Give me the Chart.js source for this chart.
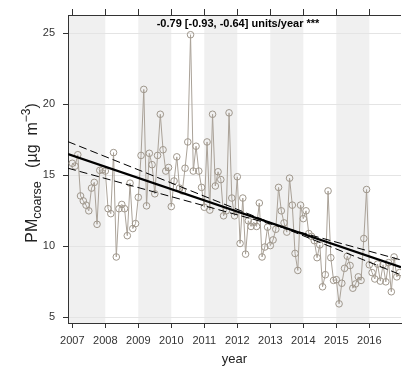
<!DOCTYPE html>
<html><head><meta charset="utf-8">
<script src="https://cdn.jsdelivr.net/npm/chart.js@4"></script>
<style>html,body{margin:0;padding:0;background:#fff;overflow:hidden}</style>
</head><body>
<canvas id="c" width="406" height="370"></canvas>
<script>
// ---- data (monthly PM coarse) ----
const years = [2007, 2008, 2009, 2010, 2011, 2012, 2013, 2014, 2015, 2016];
const pm2007 = [15.85, 15.65, 16.45, 13.55, 13.2, 12.9, 12.5, 14.1, 14.5, 11.55, 15.35, 15.4];
const pm2008 = [15.3, 12.65, 12.3, 16.6, 9.25, 12.65, 12.95, 12.65, 10.75, 14.45, 11.25, 11.6];
const pm2009 = [13.45, 16.4, 21.05, 12.85, 16.55, 15.75, 13.7, 16.4, 19.3, 16.8, 15.3, 15.55];
const pm2010 = [12.8, 14.6, 16.3, 14.1, 13.9, 15.5, 17.35, 24.9, 15.3, 17.05, 15.3, 14.15];
const pm2011 = [12.75, 17.35, 12.55, 19.3, 14.25, 15.25, 14.7, 12.15, 12.5, 19.4, 13.4, 12.15];
const pm2012 = [14.9, 10.2, 13.4, 9.45, 11.8, 11.4, 11.7, 11.4, 13.05, 9.25, 9.95, 11.35];
const pm2013 = [10.05, 10.45, 11.2, 14.15, 12.5, 11.65, 11.0, 14.8, 12.9, 9.5, 8.3, 12.9];
const pm2014 = [11.95, 12.5, 10.9, 10.7, 10.4, 9.2, 10.1, 7.15, 8.0, 13.9, 9.2, 7.6];
const pm2015 = [7.65, 5.95, 7.4, 8.45, 9.3, 8.65, 7.05, 7.35, 7.85, 7.6, 10.55, 14.0];
const pm2016 = [8.7, 8.15, 7.7, 8.75, 7.55, 8.7, 7.5, 8.85, 6.8, 9.25, 7.85, 8.15];
const yTicks = [5, 10, 15, 20, 25];
// trend (Theil-Sen) line end values and its 95% interval lines
const trendX = [2006.87, 2016.96];
const trendFit = [16.5, 8.53];
const trendSteep = [17.37, 7.99];   // slope -0.93
const trendFlat = [15.5, 9.04];     // slope -0.64
const shadedBands = [[2006.5, 2008], [2009, 2010], [2011, 2012], [2013, 2014], [2015, 2016]];
const titleText = '-0.79 [-0.93, -0.64] units/year ***';

const series = [pm2007, pm2008, pm2009, pm2010, pm2011, pm2012, pm2013, pm2014, pm2015, pm2016];
const pts = [];
years.forEach((yr, i) => series[i].forEach((v, m) => pts.push({x: yr + m / 12, y: v})));
const toXY = arr => trendX.map((x, i) => ({x, y: arr[i]}));

const FONT = "'Liberation Sans', Arial, Helvetica, sans-serif";

const frame = {
  id: 'frame',
  beforeDraw(chart) {
    const {ctx, chartArea: a, scales: {x}} = chart;
    ctx.save();
    ctx.fillStyle = '#f0f0f0';
    shadedBands.forEach(([s, e]) => {
      const p1 = Math.max(a.left, x.getPixelForValue(s));
      const p2 = Math.min(a.right, x.getPixelForValue(e));
      if (p2 > p1) ctx.fillRect(p1, a.top, p2 - p1, a.bottom - a.top);
    });
    ctx.restore();
  },
  afterDraw(chart) {
    const {ctx, chartArea: a, scales: {x}} = chart;
    ctx.save();
    ctx.strokeStyle = '#333';
    ctx.lineWidth = 1;
    ctx.beginPath();
    ctx.moveTo(a.left, a.top + 0.5); ctx.lineTo(a.right, a.top + 0.5);
    years.forEach(v => {
      const px = Math.round(x.getPixelForValue(v)) + 0.5;
      ctx.moveTo(px, a.top); ctx.lineTo(px, a.top - 6);
    });
    ctx.stroke();
    // title inside the panel
    ctx.fillStyle = '#000';
    ctx.font = 'bold 11px ' + FONT;
    ctx.textAlign = 'center';
    ctx.textBaseline = 'middle';
    ctx.fillText(titleText, 238, 24);
    // y axis label with subscript / superscript
    const parts = [
      {t: 'PM', s: 16, dy: 0},
      {t: 'coarse', s: 12.5, dy: 4},
      {t: '   (µg  m', s: 16, dy: 0},
      {t: '−3', s: 12, dy: -7},
      {t: ')', s: 16, dy: 0}
    ];
    let total = 0;
    parts.forEach(p => { ctx.font = p.s + 'px ' + FONT; p.w = ctx.measureText(p.t).width; total += p.w; });
    ctx.translate(32, 173);
    ctx.rotate(-Math.PI / 2);
    ctx.textAlign = 'left';
    ctx.textBaseline = 'alphabetic';
    ctx.fillStyle = '#222';
    let cx = -total / 2;
    parts.forEach(p => { ctx.font = p.s + 'px ' + FONT; ctx.fillText(p.t, cx, 5 + p.dy); cx += p.w; });
    ctx.restore();
  }
};

new Chart(document.getElementById('c'), {
  type: 'line',
  data: {
    datasets: [
      {data: pts, borderColor: '#aaa298', borderWidth: 1, tension: 0,
       pointRadius: 3.3, pointBorderColor: '#9f978c', pointBackgroundColor: 'rgba(0,0,0,0)', pointBorderWidth: 1, order: 3},
      {data: toXY(trendSteep), borderColor: '#000', borderWidth: 1, borderDash: [8, 4], pointRadius: 0, order: 2},
      {data: toXY(trendFlat), borderColor: '#000', borderWidth: 1, borderDash: [8, 4], pointRadius: 0, order: 2},
      {data: toXY(trendFit), borderColor: '#000', borderWidth: 2.2, pointRadius: 0, order: 1}
    ]
  },
  options: {
    responsive: false, animation: false, devicePixelRatio: 1,
    layout: {padding: {top: 15, right: 0, left: 0, bottom: 0}},
    plugins: {legend: {display: false}, tooltip: {enabled: false}},
    scales: {
      x: {
        type: 'linear', min: trendX[0], max: trendX[1],
        afterBuildTicks: s => { s.ticks = years.map(v => ({value: v})); },
        afterFit: s => { s.height = 47; },
        grid: {drawOnChartArea: false, tickLength: 5, tickColor: '#333', color: '#333'},
        border: {color: '#333', width: 1},
        ticks: {font: {family: FONT, size: 11}, color: '#333', padding: 6, maxRotation: 0, autoSkip: false, callback: v => String(v)},
        title: {display: true, text: 'year', font: {family: FONT, size: 13}, color: '#222', padding: {top: 0, bottom: 3}}
      },
      y: {
        min: 4.6, max: 26.29,
        afterBuildTicks: s => { s.ticks = yTicks.map(v => ({value: v})); },
        afterFit: s => { s.width = 68; },
        grid: {color: '#e4e4e4', tickColor: '#333', tickLength: 5},
        border: {color: '#333', width: 1},
        ticks: {font: {family: FONT, size: 11}, color: '#333', padding: 8}
      }
    }
  },
  plugins: [frame]
});
</script>
</body></html>
